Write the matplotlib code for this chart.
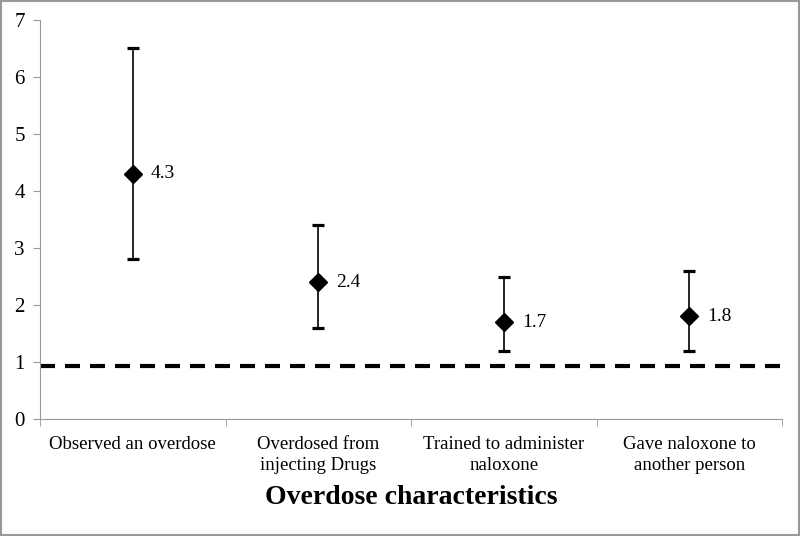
import numpy as np
import matplotlib.pyplot as plt
from matplotlib.patches import Rectangle

# odds ratios with 95% CI for each overdose characteristic
categories = ['Observed an overdose', 'Overdosed from\ninjecting Drugs',
              'Trained to administer\nnaloxone', 'Gave naloxone to\nanother person']
estimates = [4.3, 2.4, 1.7, 1.8]
lower = [2.8, 1.6, 1.2, 1.2]
upper = [6.5, 3.4, 2.5, 2.6]
ref_line = 0.94

plt.rcParams['font.family'] = ['Liberation Serif', 'DejaVu Serif']

fig = plt.figure(figsize=(8, 5.36), dpi=100)
ax = fig.add_axes([0.05, 0.218, 0.9275, 0.745])

x = np.arange(len(categories))
est = np.array(estimates)
yerr = [est - np.array(lower), np.array(upper) - est]
ax.errorbar(x, est, yerr=yerr, fmt='D', color='black', ms=9, elinewidth=1.2,
            capsize=4.5, capthick=2.3, zorder=3)
for xi, v in zip(x, estimates):
    ax.annotate(f'{v}', (xi, v), xytext=(13, 0), textcoords='offset points',
                va='center', ha='left', fontsize=14)

ax.axhline(ref_line, color='black', lw=3, ls=(0, (3.6, 2.4)), zorder=2)

ax.set_xlim(-0.5, len(categories) - 0.5)
ax.set_ylim(0, 7)
ax.set_yticks(range(0, 8))
ax.set_xticks(x)
ax.set_xticklabels(categories, fontsize=13.5, linespacing=1.3)
ax.set_xticks(np.arange(-0.5, len(categories)), minor=True)
ax.tick_params(axis='x', which='major', length=0, pad=12)
ax.tick_params(axis='x', which='minor', length=5, color='#999999', direction='out')
ax.tick_params(axis='y', length=5, color='#999999', direction='out', labelsize=15, pad=6)

for side in ['top', 'right']:
    ax.spines[side].set_visible(False)
for side in ['left', 'bottom']:
    ax.spines[side].set_color('#999999')

ax.set_xlabel('Overdose characteristics', fontsize=20, fontweight='bold', labelpad=8)

fig.patches.append(Rectangle((0.001, 0.001), 0.998, 0.998, transform=fig.transFigure,
                             fill=False, edgecolor='#999999', lw=1.5))

plt.savefig('out.png', dpi=100)
